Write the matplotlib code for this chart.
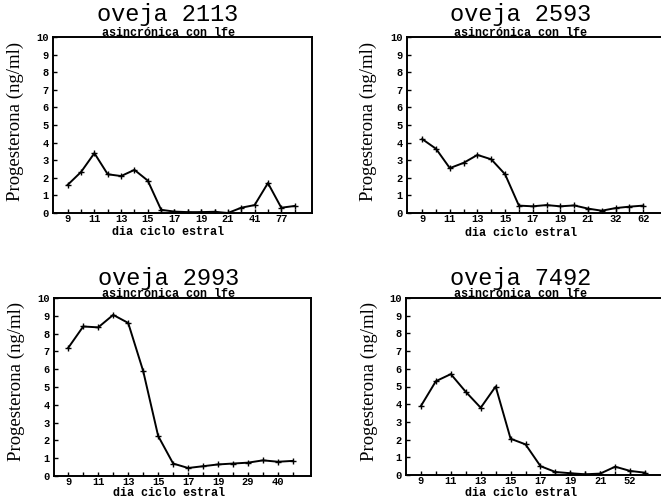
import numpy as np
import matplotlib.pyplot as plt

# data (one value per sampling day, categorical x)
labels_2113 = ['9', '', '11', '', '13', '', '15', '', '17', '', '19', '', '21', '', '41', '', '77', '']
prog_2113 = [1.6, 2.33, 3.4, 2.2, 2.1, 2.45, 1.84, 0.18, 0.08, 0.05, 0.05, 0.07, 0.0, 0.3, 0.45, 1.7, 0.3, 0.4]

labels_2593 = ['9', '', '11', '', '13', '', '15', '', '17', '', '19', '', '21', '', '32', '', '62']
prog_2593 = [4.2, 3.65, 2.55, 2.85, 3.3, 3.05, 2.2, 0.42, 0.38, 0.45, 0.38, 0.43, 0.25, 0.13, 0.28, 0.36, 0.42]

labels_2993 = ['9', '', '11', '', '13', '', '15', '', '17', '', '19', '', '29', '', '40', '']
prog_2993 = [7.2, 8.4, 8.35, 9.05, 8.6, 5.9, 2.25, 0.7, 0.45, 0.55, 0.65, 0.7, 0.75, 0.88, 0.8, 0.85]

labels_7492 = ['9', '', '11', '', '13', '', '15', '', '17', '', '19', '', '21', '', '52', '']
prog_7492 = [3.9, 5.3, 5.7, 4.7, 3.8, 5.0, 2.05, 1.73, 0.5, 0.17, 0.1, 0.04, 0.08, 0.47, 0.23, 0.13]

titles = ['oveja 2113', 'oveja 2593', 'oveja 2993', 'oveja 7492']
subtitle = 'asincrónica con lfe'
ylab = 'Progesterona (ng/ml)'
xlab = 'dia ciclo estral'

W, H = 661, 497
fig = plt.figure(figsize=(W / 100, H / 100), dpi=100)


def box(x0, y0, x1, y1):
    # pixel box (top-left origin) -> figure fraction rect
    return [x0 / W, 1 - y1 / H, (x1 - x0) / W, (y1 - y0) / H]


def panel(rect, vals, labels, xlim):
    ax = fig.add_axes(rect)
    x = np.arange(len(vals))
    ax.plot(x, vals, color='black', lw=1.4, marker='+', ms=4, mew=1)
    ax.set_xlim(*xlim)
    ax.set_ylim(0, 10)
    ax.set_xticks(x)
    ax.set_xticklabels(labels)
    ax.set_yticks(range(11))
    for s in ax.spines.values():
        s.set_linewidth(1.4)
    ax.tick_params(axis='x', direction='in', length=3, width=1, pad=1)
    ax.tick_params(axis='y', direction='in', length=3, width=1, pad=3)
    for t in ax.get_xticklabels() + ax.get_yticklabels():
        t.set_fontfamily('Liberation Mono')
        t.set_fontweight('bold')
        t.set_fontsize(7.5)
    return ax


panel(box(53, 37, 312, 213), prog_2113, labels_2113, (-1.1, 18.3))
panel(box(407, 37, 675, 213), prog_2593, labels_2593, (-1.1, 18.3))
panel(box(54, 298, 311, 476), prog_2993, labels_2993, (-0.95, 16.2))
panel(box(406, 298, 663, 475), prog_7492, labels_7492, (-1.0, 16.2))

# titles, subtitles, axis labels
cx = [168, 521, 169, 521]
ty = [15, 15, 278, 278]
sy = [33, 33, 294, 294]
yl = [(15, 121), (368, 121), (16, 381), (369, 381)]
xy = [235, 236, 496, 496]   # baselines of the x labels
for i in range(4):
    fig.text(cx[i] / W, 1 - ty[i] / H, titles[i], ha='center', va='center',
             family='Liberation Mono', fontsize=17)
    fig.text(cx[i] / W, 1 - sy[i] / H, subtitle, ha='center', va='center',
             family='Liberation Mono', fontweight='bold', fontsize=8.5)
    fig.text(yl[i][0] / W, 1 - yl[i][1] / H, ylab, ha='center', va='center',
             rotation=90, family='Liberation Serif', fontsize=13.5)
    fig.text(cx[i] / W, 1 - xy[i] / H, xlab, ha='center', va='baseline',
             family='Liberation Mono', fontweight='bold', fontsize=8.5)

fig.savefig('out.png', dpi=100)
